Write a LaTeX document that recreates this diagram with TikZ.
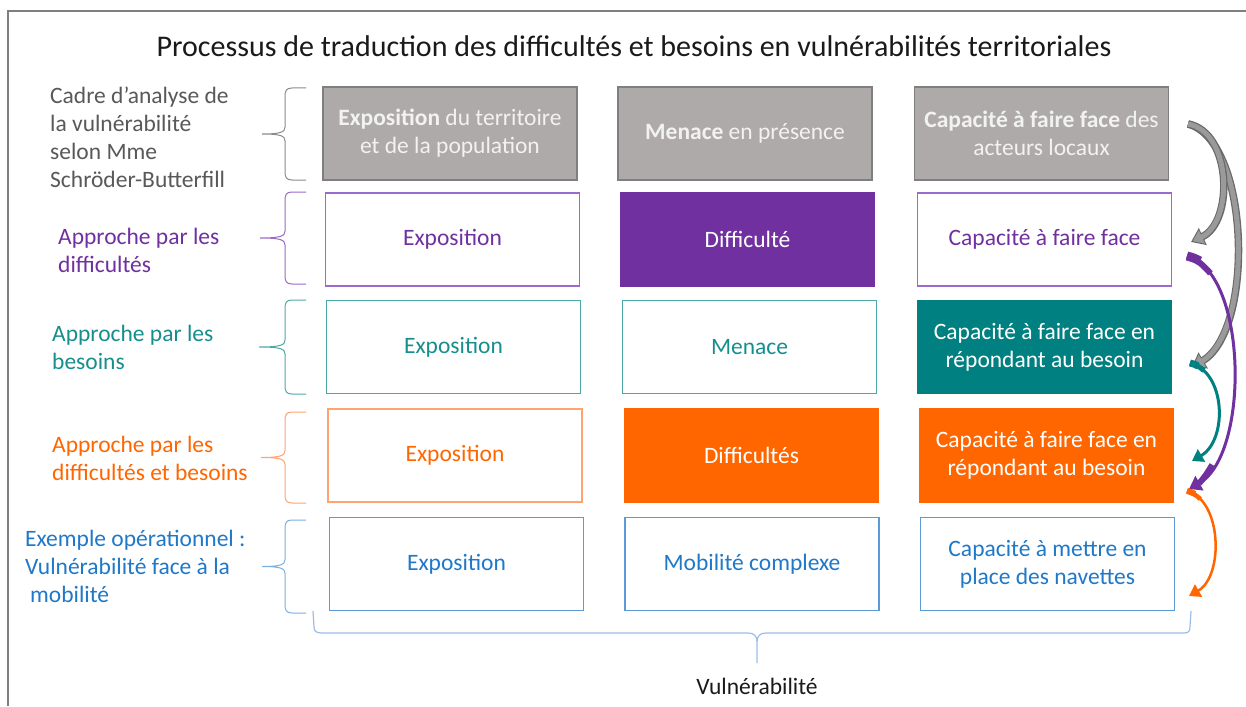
\documentclass[tikz,border=0pt]{standalone}
\usepackage{fontspec}
\setmainfont{Carlito}
\usetikzlibrary{arrows.meta}
\definecolor{framegray}{HTML}{7F7F7F}
\definecolor{boxgray}{HTML}{AEAAAA}
\definecolor{boxgrayline}{HTML}{7F7F7F}
\definecolor{lightt}{HTML}{F2F2F2}
\definecolor{labgray}{HTML}{595959}
\definecolor{pur}{HTML}{7030A0}
\definecolor{purl}{HTML}{9A6BC8}
\definecolor{teal}{HTML}{008080}
\definecolor{teallt}{HTML}{4FA8A8}
\definecolor{tealtx}{HTML}{178E8E}
\definecolor{ora}{HTML}{FF6600}
\definecolor{oralt}{HTML}{FFA276}
\definecolor{blu}{HTML}{1F78C8}
\definecolor{blult}{HTML}{5B9BD5}
\definecolor{bracebl}{HTML}{9DBDE6}
\definecolor{arrgray}{HTML}{9A9A9A}
\definecolor{arrdark}{HTML}{6A6A6A}
\definecolor{titlec}{HTML}{1A1A1A}
\tikzset{
  cell/.style={draw, line width=1.5pt, minimum width=254pt, minimum height=93pt,
    align=center, inner sep=0pt, font=\fontsize{23.5}{28}\selectfont},
  lab/.style={anchor=west, align=left, inner sep=0pt, font=\fontsize{23.5}{28}\selectfont},
  brc/.style={line width=1pt},
  carrow/.style={line cap=butt},
}
\newcommand\leftbr[4]{% top bottom tipx color
  \draw[brc,#4] (306,#1) -- (292,#1) .. controls (286,#1) and (285,#1+3) .. (285,#1+9)
    -- (285,{(#1+#2)/2-7}) .. controls (285,{(#1+#2)/2-2}) and (281,{(#1+#2)/2}) .. (#3,{(#1+#2)/2})
    (#3,{(#1+#2)/2}) .. controls (281,{(#1+#2)/2}) and (285,{(#1+#2)/2+2}) .. (285,{(#1+#2)/2+7})
    -- (285,#2-9) .. controls (285,#2-3) and (286,#2) .. (292,#2) -- (306,#2);}
\begin{document}
\begin{tikzpicture}[x=1pt,y=-1pt]
\useasboundingbox (0,0) rectangle (1246,706);
\fill[white] (0,0) rectangle (1246,706);
% frame
\draw[framegray, line width=1.6pt] (8,706) -- (8,11) -- (1246,11);
% title
\node[text=titlec, font=\fontsize{30}{34}\selectfont, inner sep=0pt] (title) at (634,46)
  {Processus de traduction des difficultés et besoins en vulnérabilités territoriales};
% row 1
\node[cell, draw=boxgrayline, fill=boxgray, text=lightt] (a1) at (450,133.5)
  {\textbf{Exposition} du territoire\\et de la population};
\node[cell, draw=boxgrayline, fill=boxgray, text=lightt] (b1) at (745,133.5)
  {\textbf{Menace} en présence};
\node[cell, draw=boxgrayline, fill=boxgray, text=lightt] (c1) at (1041.5,133.5)
  {\textbf{Capacité à faire face} des\\acteurs locaux};
% row 2
\node[cell, draw=purl, text=pur] (a2) at (452.5,239.5) {Exposition};
\node[cell, draw=pur, fill=pur, text=white] (b2) at (747.5,239.5) {Difficulté};
\node[cell, draw=purl, text=pur] (c2) at (1044.5,239.5) {Capacité à faire face};
% row 3
\node[cell, draw=teallt, text=tealtx] (a3) at (453.5,347) {Exposition};
\node[cell, draw=teallt, text=tealtx] (b3) at (749.5,347) {Menace};
\node[cell, draw=teal, fill=teal, text=white] (c3) at (1044.5,347)
  {Capacité à faire face en\\répondant au besoin};
% row 4
\node[cell, draw=oralt, text=ora] (a4) at (455,455.5) {Exposition};
\node[cell, draw=ora, fill=ora, text=white] (b4) at (751.5,455.5) {Difficultés};
\node[cell, draw=ora, fill=ora, text=white] (c4) at (1046.5,455.5)
  {Capacité à faire face en\\répondant au besoin};
% row 5
\node[cell, draw=blult, text=blu] (a5) at (456.5,564) {Exposition};
\node[cell, draw=blult, text=blu] (b5) at (752,564) {Mobilité complexe};
\node[cell, draw=blult, text=blu] (c5) at (1047.5,564)
  {Capacité à mettre en\\place des navettes};
% left labels
\node[lab, text=labgray] (l1) at (50,137)
  {Cadre d’analyse de\\la vulnérabilité\\selon Mme\\Schröder-Butterfill};
\node[lab, text=pur] (l2) at (58,250.5) {Approche par les\\difficultés};
\node[lab, text=tealtx] (l3) at (52,347.5) {Approche par les\\besoins};
\node[lab, text=ora] (l4) at (52,458) {Approche par les\\difficultés et besoins};
\node[lab, text=blu] (l5) at (25,566)
  {Exemple opérationnel :\\Vulnérabilité face à la\\\hspace{5pt}mobilité};
% braces
\leftbr{88}{180}{262}{labgray!70}
\leftbr{192}{284}{260}{purl}
\leftbr{300}{394}{259}{teallt}
\leftbr{412}{503}{261}{oralt}
\leftbr{520}{613}{262}{blult!80}
% bottom brace
\draw[brc, bracebl, line width=1.2pt] (313,611) -- (314,627) .. controls (314,631) and (316,633) .. (322,633)
  -- (748,633) .. controls (754,633) and (757,636) .. (757,642) -- (757,663)
  (757,642) .. controls (757,636) and (760,633) .. (766,633)
  -- (1184,633) .. controls (1189,633) and (1190,631) .. (1190,626) -- (1191,611);
\node[text=titlec, font=\fontsize{23.5}{28}\selectfont, inner sep=0pt] (vul) at (757,686) {Vulnérabilité};
% curved arrows
\coordinate (s1) at (1188,124);
\coordinate (e1) at (1191,242);
\coordinate (e2) at (1192,367);
\coordinate (s3) at (1187,256);
\coordinate (e3) at (1189,489);
\coordinate (s4) at (1190,363);
\coordinate (e4) at (1192,461);
\coordinate (s5) at (1187,491);
\coordinate (e5) at (1189,596);
% gray arrows (outlined)
\draw[carrow, arrdark, line width=7.5pt, -{Triangle[width=18pt,length=13pt]}]
  (s1) .. controls (1250,140) and (1255,330) .. (e2);
\draw[carrow, arrgray, line width=5pt, shorten >=2pt, -{Triangle[width=14pt,length=10pt]}]
  (s1) .. controls (1250,140) and (1255,330) .. (e2);
\draw[carrow, arrdark, line width=7.5pt, -{Triangle[width=18pt,length=13pt]}]
  (s1) .. controls (1232,132) and (1234,222) .. (e1);
\draw[carrow, arrgray, line width=5pt, shorten >=2pt, -{Triangle[width=14pt,length=10pt]}]
  (s1) .. controls (1232,132) and (1234,222) .. (e1);
% purple
\draw[carrow, pur, line width=3pt, -{Triangle[width=16pt,length=12pt]}]
  (s3) .. controls (1248,272) and (1250,455) .. (e3);
\draw[carrow, pur, line width=9pt] (s3) .. controls (1192,257.2) and (1196,258.8) .. (1200,261);
\draw[carrow, pur, line width=6pt] (s3) .. controls (1196.2,258.4) and (1204,266) .. (1210.5,273.4);
\draw[carrow, pur, line width=6pt] (1212.2,464.7) .. controls (1208,472) and (1204,478) .. (1199,483.5);
% teal
\draw[carrow, teal, line width=3pt, -{Triangle[width=14pt,length=11pt]}]
  (s4) .. controls (1226,372) and (1228,440) .. (e4);
\draw[carrow, teal, line width=7pt] (s4) .. controls (1193,363.6) and (1196,364.6) .. (1198,366);
\draw[carrow, teal, line width=5pt] (s4) .. controls (1195.4,364.4) and (1200,367) .. (1203.9,370.7);
% orange
\draw[carrow, ora, line width=2.5pt, -{Triangle[width=14pt,length=11pt]}]
  (s5) .. controls (1222,500) and (1224,576) .. (e5);
\draw[carrow, ora, line width=6pt] (s5) .. controls (1190,491.5) and (1193,492.8) .. (1195,494);
\draw[carrow, ora, line width=4.5pt] (s5) .. controls (1192.2,492.4) and (1196.5,495.5) .. (1200.4,499.1);
\end{tikzpicture}
\end{document}
